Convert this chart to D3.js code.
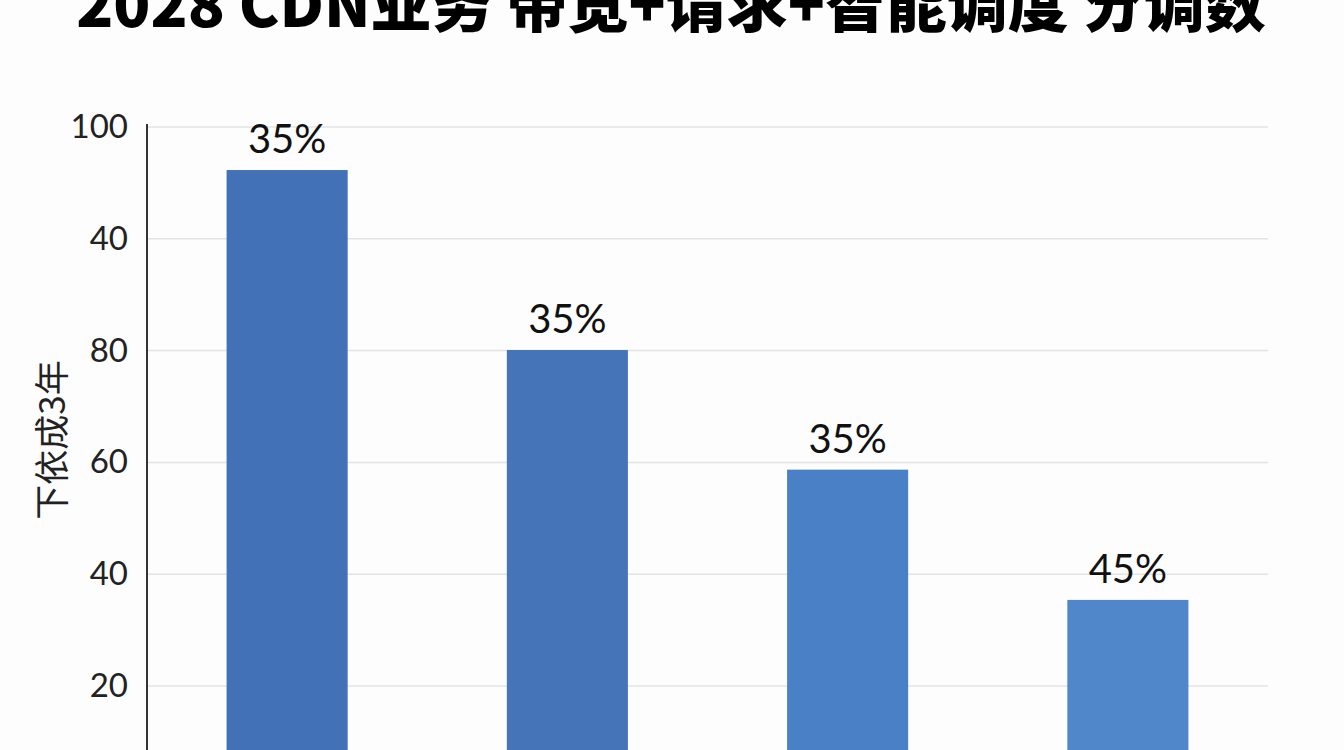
<!DOCTYPE html>
<html>
<head>
<meta charset="utf-8">
<script src="https://cdn.jsdelivr.net/npm/d3@7"></script>
<style>
  body{margin:0;background:#fff;overflow:hidden;}
  svg{display:block;}
</style>
</head>
<body>
<svg id="chart"></svg>
<script>
// datos
const categorias = ["c1","c2","c3","c4"];
const valores = [112.3, 80.1, 58.7, 35.4];
const etiquetas = ["35%","35%","35%","45%"];
const colores = ["#4271b7","#4574b9","#4a80c6","#4f87ca"];
const tickPos = [120,100,80,60,40,20];
const tickLabels = ["100","40","80","60","40","20"];
const titulo = "2028 CDN业务 带宽+请求+智能调度 分调数";
const ejeY = "下依成3年";

let width = 1344, height = 750;
const margin = {left:147, right:76, top:127, bottom:0};

const svg = d3.select('#chart')
  .attr('width',width)
  .attr('height',height);

svg.append('rect')
  .attr('width','100%')
  .attr('height','100%')
  .attr('fill','#fdfdfd');

const x = d3.scaleBand()
  .domain(categorias)
  .range([margin.left, width-margin.right])
  .paddingInner(0.568)
  .paddingOuter(0.284);

// el 20 esta en 686, el 120 arriba en 127
const y = d3.scaleLinear()
  .domain([20,120])
  .range([686,127]);

// grid
svg.append('g')
  .selectAll('line')
  .data(tickPos)
  .join('line')
    .attr('x1',margin.left)
    .attr('x2',width-margin.right)
    .attr('y1',d=>y(d))
    .attr('y2',d=>y(d))
    .attr('stroke','#e3e3e3')
    .attr('stroke-width',1.5);

// eje y
const axis = svg.append('g')
  .attr('transform',`translate(${margin.left},0)`)
  .call(d3.axisLeft(y)
    .tickValues(tickPos)
    .tickSize(0)
    .tickPadding(19)
    .tickFormat((d,i)=>tickLabels[i]));
axis.select('.domain').remove();
axis.selectAll('text')
  .attr('font-family','Lato, "Noto Sans", sans-serif')
  .attr('font-size',33)
  .attr('fill','#222');

svg.append('line')
  .attr('x1',margin.left).attr('x2',margin.left)
  .attr('y1',124).attr('y2',height)
  .attr('stroke','#333')
  .attr('stroke-width',2);

// barras
svg.selectAll('.bar')
  .data(valores)
  .join('rect')
    .classed('bar',true)
    .attr('x',(d,i)=>x(categorias[i]))
    .attr('y',d=>y(d))
    .attr('width',x.bandwidth())
    .attr('height',d=>height+20-y(d))
    .attr('fill',(d,i)=>colores[i]);

svg.selectAll('.lbl')
  .data(valores)
  .join('text')
    .classed('lbl',true)
    .attr('x',(d,i)=>x(categorias[i])+x.bandwidth()/2)
    .attr('y',d=>y(d)-17)
    .attr('text-anchor','middle')
    .attr('font-family','Lato, "Noto Sans", sans-serif')
    .attr('font-size',40)
    .attr('fill','#111')
    .text((d,i)=>etiquetas[i]);

// titulo eje
svg.append('text')
  .attr('transform','translate(65,440) rotate(-90)')
  .attr('text-anchor','middle')
  .attr('font-family','"Noto Sans CJK SC", sans-serif')
  .attr('font-size',35)
  .attr('fill','#222')
  .text(ejeY);

// titulo (cortado arriba, como en la imagen)
svg.append('text')
  .attr('x',671)
  .attr('y',27)
  .attr('text-anchor','middle')
  .attr('font-family','"Noto Sans CJK SC", sans-serif')
  .attr('font-weight',900)
  .attr('font-size',61)
  .attr('fill','#000')
  .text(titulo);
</script>
</body>
</html>
